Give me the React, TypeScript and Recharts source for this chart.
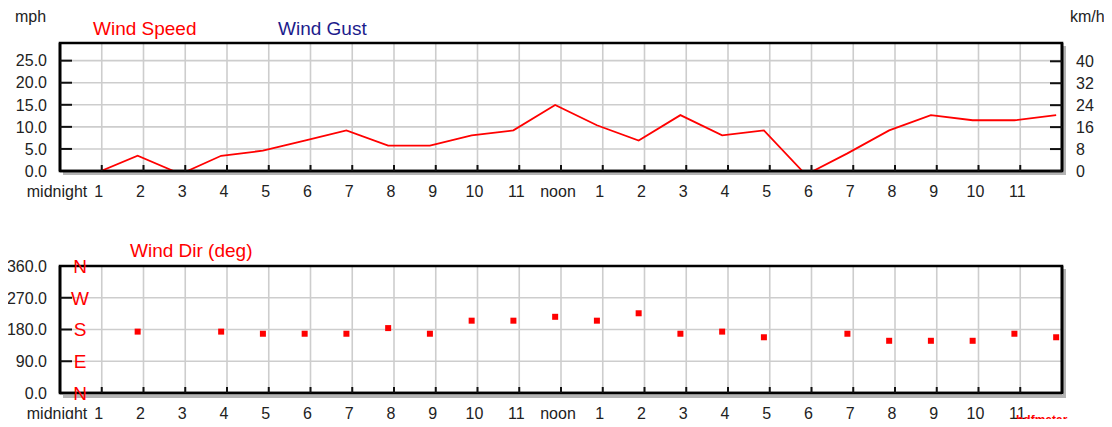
import React from 'react';
import { LineChart, Line, XAxis, YAxis, CartesianGrid, ScatterChart, Scatter, ReferenceArea } from 'recharts';

const FONT = '"Liberation Sans", Arial, sans-serif';

const hourTicks = [0, 1, 2, 3, 4, 5, 6, 7, 8, 9, 10, 11, 12, 13, 14, 15, 16, 17, 18, 19, 20, 21, 22, 23];
const hourLabels = ['midnight', '1', '2', '3', '4', '5', '6', '7', '8', '9', '10', '11', 'noon', '1', '2', '3', '4', '5', '6', '7', '8', '9', '10', '11'];

const speedHours = [0.98, 1.86, 2.72, 3.05, 3.86, 4.86, 5.86, 6.86, 7.86, 8.86, 9.86, 10.86, 11.86, 12.86, 13.86, 14.86, 15.86, 16.86, 17.78, 18.04, 18.86, 19.86, 20.86, 21.86, 22.86, 23.86];
const speedMph = [0, 3.45, 0, 0, 3.45, 4.6, 6.9, 9.2, 5.75, 5.75, 8.06, 9.2, 14.96, 10.36, 6.9, 12.66, 8.06, 9.2, 0, 0, 4.0, 9.2, 12.66, 11.5, 11.5, 12.66];

const dirHours = [1.86, 3.86, 4.86, 5.86, 6.86, 7.86, 8.86, 9.86, 10.86, 11.86, 12.86, 13.86, 14.86, 15.86, 16.86, 18.86, 19.86, 20.86, 21.86, 22.86, 23.86];
const dirDeg = [174, 174, 168, 168, 168, 184, 168, 205, 205, 216, 205, 226, 168, 174, 158, 168, 148, 148, 148, 168, 158];

const mphTicks = [0, 5, 10, 15, 20, 25];
const kmhTicks = [0, 8, 16, 24, 32, 40];
const dirTicks = [0, 90, 180, 270, 360];
const compassLabels = ['N', 'E', 'S', 'W', 'N'];

const MPH_MAX = 29;
const KMH_PER_MPH = 1.609344;

const speedData = speedHours.map((h, i) => ({ h, mph: speedMph[i] }));
const dirData = dirHours.map((h, i) => ({ h, dir: dirDeg[i] }));

const FRAME = { stroke: '#000', strokeWidth: 2.6 };
const TICKLINE = { stroke: '#111', strokeWidth: 2 };
const TICKTEXT = { fill: '#222', fontSize: 16, fontFamily: FONT };
const LEFT_GAP = 13;
const LEFT_TICK_LEN = 12;

const XTick = (props: any) => {
  const { x, y, payload } = props;
  return (
    <text x={x - 3} y={y} dy="0.71em" textAnchor="middle" fill="#222" fontSize={16} fontFamily={FONT}>
      {hourLabels[payload.value]}
    </text>
  );
};

const MphTick = (props: any) => {
  const { x, y, payload } = props;
  const edge = x + LEFT_GAP;
  return (
    <g>
      {payload.value > 0 && <line x1={edge} x2={edge + LEFT_TICK_LEN} y1={y} y2={y} stroke="#111" strokeWidth={2} />}
      <text x={x} y={y} dy="0.36em" textAnchor="end" fill="#222" fontSize={16} fontFamily={FONT}>
        {Number(payload.value).toFixed(1)}
      </text>
    </g>
  );
};

const DirTick = (props: any) => {
  const { x, y, payload } = props;
  const idx = dirTicks.indexOf(payload.value);
  const edge = x + LEFT_GAP;
  return (
    <g>
      {payload.value > 0 && payload.value < 360 && (
        <line x1={edge} x2={edge + LEFT_TICK_LEN} y1={y} y2={y} stroke="#111" strokeWidth={2} />
      )}
      <text x={x} y={y} dy="0.36em" textAnchor="end" fill="#222" fontSize={16} fontFamily={FONT}>
        {Number(payload.value).toFixed(1)}
      </text>
      <text x={edge + 20} y={y} dy="0.36em" textAnchor="middle" fill="#ff0000" fontSize={19} fontFamily={FONT}>
        {compassLabels[idx]}
      </text>
    </g>
  );
};

const Square = (props: any) => {
  const { cx, cy } = props;
  return <rect x={cx - 3} y={cy - 3} width={6} height={6} fill="#ff0000" />;
};

const label = (text: string, left: number, top: number, size: number, color: string, bold = false) => (
  <div
    style={{
      position: 'absolute',
      left,
      top,
      fontSize: size,
      lineHeight: 1,
      color,
      fontFamily: FONT,
      fontWeight: bold ? 'bold' : 'normal',
      whiteSpace: 'nowrap',
    }}
  >
    {text}
  </div>
);

const shadow = (top: number) => (
  <div
    style={{
      position: 'absolute',
      left: 55,
      top,
      width: 1003,
      height: 129,
      boxSizing: 'border-box',
      borderRight: '3px solid #b4b4b4',
      borderBottom: '3px solid #b4b4b4',
    }}
  />
);

export default function App() {
  return (
    <div style={{ position: 'relative', width: 1096, height: 411, background: '#fff' }}>
      {shadow(38)}
      {shadow(261)}
      <div style={{ position: 'absolute', left: 0, top: 0 }}>
        <LineChart width={1096} height={200} data={speedData} margin={{ top: 35, right: 0, bottom: 7, left: 0 }}>
          <CartesianGrid stroke="#cdcdcd" strokeWidth={1.6} yAxisId="mph" />
          <Line yAxisId="mph" type="linear" dataKey="mph" stroke="#ff0000" strokeWidth={1.8} dot={false} isAnimationActive={false} />
          <ReferenceArea yAxisId="mph" x1={0} x2={24} y1={0} y2={MPH_MAX} fill="none" fillOpacity={0} stroke="#000" strokeWidth={2.6} />
          <XAxis
            dataKey="h"
            type="number"
            domain={[0, 24]}
            allowDataOverflow
            ticks={hourTicks}
            interval={0}
            height={30}
            tickSize={-6}
            tickMargin={21}
            stroke="#000"
            axisLine={FRAME}
            tickLine={TICKLINE}
            tick={<XTick />}
          />
          <YAxis
            yAxisId="mph"
            orientation="left"
            type="number"
            domain={[0, MPH_MAX]}
            allowDataOverflow
            ticks={mphTicks}
            interval={0}
            width={52}
            tickSize={0}
            tickMargin={LEFT_GAP}
            stroke="#000"
            axisLine={FRAME}
            tickLine={false}
            tick={<MphTick />}
          />
          <YAxis
            yAxisId="kmh"
            orientation="right"
            type="number"
            domain={[0, MPH_MAX * KMH_PER_MPH]}
            allowDataOverflow
            ticks={kmhTicks}
            interval={0}
            width={42}
            tickSize={-12}
            tickMargin={26}
            stroke="#000"
            axisLine={FRAME}
            tickLine={TICKLINE}
            tick={TICKTEXT}
          />
        </LineChart>
      </div>

      <div style={{ position: 'absolute', left: 0, top: 200 }}>
        <ScatterChart width={1096} height={219} margin={{ top: 58, right: 0, bottom: 4, left: 0 }}>
          <CartesianGrid stroke="#cdcdcd" strokeWidth={1.6} yAxisId="dir" />
          <ReferenceArea yAxisId="dir" x1={0} x2={24} y1={0} y2={360} fill="none" fillOpacity={0} stroke="#000" strokeWidth={2.6} />
          <XAxis
            dataKey="h"
            type="number"
            domain={[0, 24]}
            allowDataOverflow
            ticks={hourTicks}
            interval={0}
            height={30}
            tickSize={-6}
            tickMargin={21}
            stroke="#000"
            axisLine={FRAME}
            tickLine={TICKLINE}
            tick={<XTick />}
          />
          <YAxis
            yAxisId="dir"
            dataKey="dir"
            orientation="left"
            type="number"
            domain={[0, 360]}
            allowDataOverflow
            ticks={dirTicks}
            interval={0}
            width={52}
            tickSize={0}
            tickMargin={LEFT_GAP}
            stroke="#000"
            axisLine={FRAME}
            tickLine={false}
            tick={<DirTick />}
          />
          <YAxis
            yAxisId="dirR"
            orientation="right"
            type="number"
            domain={[0, 360]}
            allowDataOverflow
            ticks={dirTicks}
            interval={0}
            width={42}
            tickSize={-12}
            tickMargin={26}
            stroke="#000"
            axisLine={FRAME}
            tickLine={TICKLINE}
            tick={false}
          />
          <Scatter yAxisId="dir" data={dirData} dataKey="dir" shape={<Square />} isAnimationActive={false} />
        </ScatterChart>
      </div>

      {label('mph', 7, 1, 16, '#222')}
      {label('Wind Speed', 85, 11, 19, '#ff0000')}
      {label('Wind Gust', 270, 11, 19, '#1c1c8c')}
      {label('km/h', 1062, 1, 16, '#222')}
      {label('Wind Dir (deg)', 122, 233, 19, '#ff0000')}
      {label('hdfmetar', 1008, 406, 12, '#ff0000', true)}
    </div>
  );
}
